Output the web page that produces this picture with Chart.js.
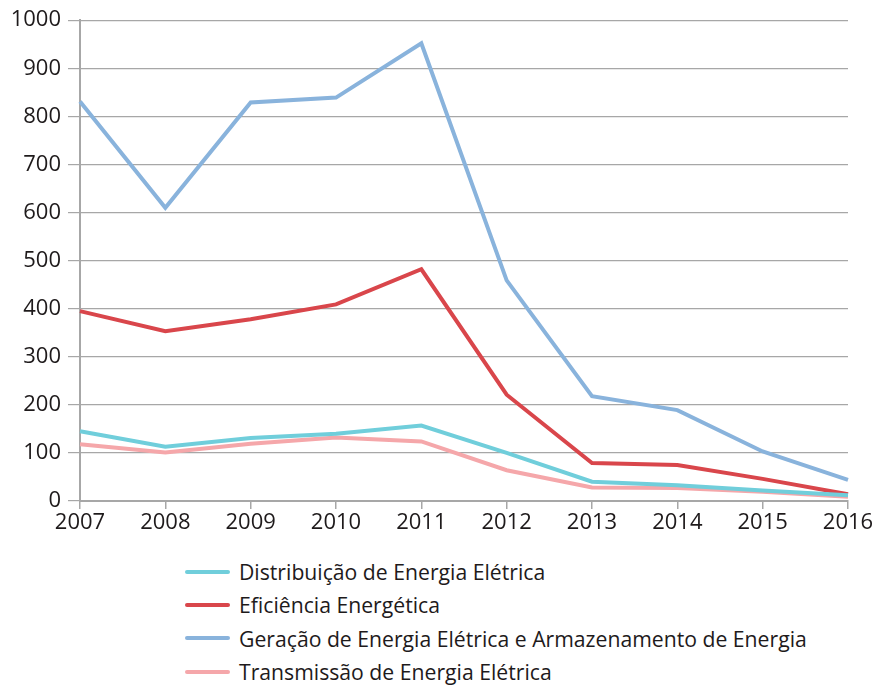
<!DOCTYPE html>
<html lang="pt">
<head>
<meta charset="utf-8">
<script src="https://cdn.jsdelivr.net/npm/chart.js@4"></script>
<style>
    body { margin: 0; background: #fff; font-family: 'Open Sans', sans-serif; }
    #wrap { position: relative; width: 883px; height: 686px; overflow: hidden; }
    #legend { position: absolute; left: 185px; top: 555px; list-style: none; margin: 0; padding: 0; }
    #legend li { display: flex; align-items: center; height: 33.3px; font-size: 21.2px; color: #1e1a1b; white-space: nowrap; }
    #legend span.swatch { display: inline-block; width: 45px; height: 4px; border-radius: 2px; margin-right: 9px; }
</style>
</head>
<body>
<div id="wrap">
    <canvas id="lineChart" width="883" height="546"></canvas>
    <ul id="legend"></ul>
</div>
<script>
const years = ['2007', '2008', '2009', '2010', '2011', '2012', '2013', '2014', '2015', '2016'];
const distribuicao = [145, 113, 131, 140, 157, 100, 40, 33, 22, 12];
const eficiencia = [395, 353, 378, 409, 482, 221, 79, 75, 46, 14];
const geracao = [831, 610, 829, 839, 952, 459, 218, 189, 103, 44];
const transmissao = [118, 101, 119, 132, 124, 64, 28, 27, 19, 9];
const seriesNames = [
    'Distribuição de Energia Elétrica',
    'Eficiência Energética',
    'Geração de Energia Elétrica e Armazenamento de Energia',
    'Transmissão de Energia Elétrica'
];
const seriesColors = ['#70cedb', '#d9464b', '#89b3dc', '#f5a7aa'];

const textColor = '#1e1a1b';
const axisColor = '#a7a7a7';
const fontSpec = { family: "'Open Sans', sans-serif", size: 22 };

function makeDataset(i, values) {
    return {
        label: seriesNames[i],
        data: values,
        borderColor: seriesColors[i],
        backgroundColor: seriesColors[i],
        borderWidth: 4,
        pointRadius: 0,
        tension: 0,
        fill: false
    };
}

const ctx = document.getElementById('lineChart').getContext('2d');
const chart = new Chart(ctx, {
    type: 'line',
    data: {
        labels: years,
        datasets: [
            makeDataset(0, distribuicao),
            makeDataset(1, eficiencia),
            makeDataset(2, geracao),
            makeDataset(3, transmissao)
        ]
    },
    options: {
        responsive: false,
        animation: false,
        devicePixelRatio: 1,
        layout: { padding: { top: 12, right: 35, bottom: 0, left: 0 } },
        plugins: {
            legend: { display: false },
            tooltip: { enabled: false }
        },
        scales: {
            x: {
                offset: false,
                grid: { drawOnChartArea: false, drawTicks: true, tickLength: 8, color: axisColor, lineWidth: 1.5 },
                border: { display: true, color: axisColor, width: 2 },
                ticks: { color: textColor, font: fontSpec, padding: 1, maxRotation: 0, autoSkip: false },
                afterFit: function (scale) { scale.height = 45; }
            },
            y: {
                min: 0,
                max: 1000,
                grid: { color: axisColor, lineWidth: 1.2, drawTicks: true, tickLength: 12 },
                border: { display: true, color: axisColor, width: 2 },
                ticks: {
                    color: textColor, font: fontSpec, stepSize: 100, padding: 7,
                    callback: function (value) { return String(value); }
                },
                afterFit: function (scale) { scale.width = 80; }
            }
        }
    }
});

// legenda em lista vertical, como no original
const legend = document.getElementById('legend');
chart.data.datasets.forEach(function (ds) {
    const li = document.createElement('li');
    const sw = document.createElement('span');
    sw.className = 'swatch';
    sw.style.background = ds.borderColor;
    li.appendChild(sw);
    li.appendChild(document.createTextNode(ds.label));
    legend.appendChild(li);
});
</script>
</body>
</html>
